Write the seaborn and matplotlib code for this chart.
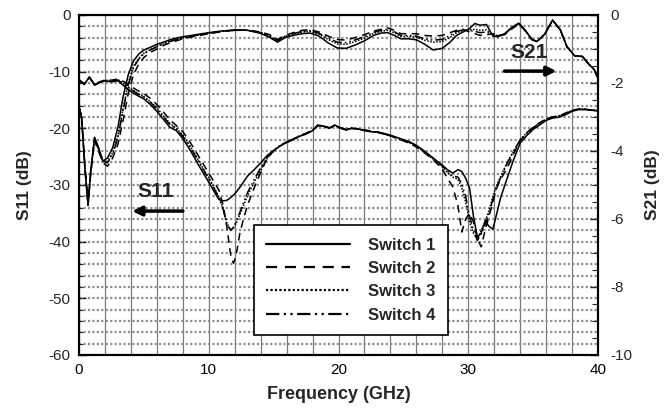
import matplotlib
matplotlib.use("Agg")
import matplotlib.pyplot as plt
from matplotlib.lines import Line2D
from matplotlib.ticker import MultipleLocator
import pandas as pd
import seaborn as sns

switches = ["Switch 1", "Switch 2", "Switch 3", "Switch 4"]

# ---- S11 (left axis, dB) ----
freq_s11 = [0, 0.4, 0.8, 1.2, 1.6, 2.0, 2.5, 3.0, 3.5, 4.0,
            4.5, 5.0, 5.5, 6.0, 6.5, 7.0, 7.5, 8.0, 8.5, 9.0,
            9.5, 10.0, 10.5, 10.8, 11.1, 11.4, 11.7, 11.9, 12.1, 12.4,
            12.7, 13.0, 13.5, 14.0, 14.5, 15.0, 15.5, 16.0, 16.5, 17.0,
            17.5, 18.0, 18.4, 18.8, 19.3, 19.7, 20.2, 20.6, 21.0, 21.5,
            22.0, 22.5, 23.0, 23.5, 24.0, 24.5, 25.0, 25.5, 26.0, 26.5,
            27.0, 27.5, 28.0, 28.4, 28.8, 29.2, 29.5, 29.8, 30.1, 30.4,
            30.7, 31.0, 31.3, 31.6, 31.9, 32.2, 32.5, 33.0, 33.5, 34.0,
            34.5, 35.0, 35.5, 36.0, 36.5, 37.0, 37.5, 38.0, 38.5, 39.0,
            39.5, 40.0]

s11_sw1 = [-11.5, -12.3, -10.9, -12.4, -11.9, -11.6, -11.8, -11.6, -12.6, -13.5,
           -14.2, -14.8, -15.8, -17.0, -18.4, -19.8, -20.4, -21.8, -23.6, -25.6,
           -27.6, -29.5, -31.5, -32.6, -32.8, -32.7, -32.2, -31.8, -31.3, -30.4,
           -29.4, -28.4, -27.3, -26.1, -24.8, -23.9, -23.1, -22.5, -22.0, -21.4,
           -21.0, -20.4, -19.4, -19.6, -20.0, -19.4, -20.0, -20.3, -20.0, -20.1,
           -20.4, -20.6, -20.6, -20.9, -21.2, -21.6, -22.0, -22.4, -23.0, -23.8,
           -24.7, -25.6, -26.5, -27.3, -27.9, -27.3, -27.6, -28.8, -30.5, -35.5,
           -39.2, -38.5, -36.3, -37.3, -37.8, -35.0, -32.2, -28.8, -25.5, -22.6,
           -21.3, -20.2, -19.4, -18.6, -18.2, -18.0, -17.6, -17.0, -16.7, -16.7,
           -16.8, -16.9]

s11_sw2 = [-11.4, -12.1, -11.0, -12.2, -11.8, -11.5, -11.5, -11.3, -11.8, -12.6,
           -13.3, -13.9, -14.7, -15.8, -17.1, -18.5, -19.5, -20.6, -22.2, -24.1,
           -26.0, -27.9, -29.8, -31.0, -33.5, -37.5, -42.5, -43.8, -42.5, -38.5,
           -35.8, -33.5, -30.5, -27.8, -25.3, -24.0, -23.1, -22.4, -21.9, -21.3,
           -20.9, -20.3, -19.6, -19.5, -19.9, -19.6, -19.9, -20.2, -20.0, -20.1,
           -20.3, -20.5, -20.7, -21.0, -21.3, -21.8, -22.2, -22.7, -23.3, -24.1,
           -25.0, -26.0, -27.2, -28.8, -30.3, -33.5, -38.3, -36.0, -35.0, -36.5,
           -39.5, -40.9, -38.0, -35.5, -33.0, -30.5, -29.0, -27.0, -24.5, -22.2,
           -20.8, -19.8, -19.0, -18.3, -18.0, -17.8, -17.3, -16.8, -16.6, -16.6,
           -16.8, -16.9]

s11_sw3 = [-11.5, -12.2, -11.0, -12.3, -11.8, -11.5, -11.6, -11.4, -12.2, -13.0,
           -13.8, -14.4, -15.3, -16.4, -17.8, -19.1, -20.0, -21.2, -22.9, -24.8,
           -26.8, -28.7, -30.8, -32.2, -34.0, -36.8, -37.9, -37.6, -36.8, -35.2,
           -33.5, -31.8, -29.5, -27.4, -25.3, -24.0, -23.1, -22.5, -22.0, -21.4,
           -21.0, -20.4, -19.5, -19.6, -20.0, -19.5, -20.0, -20.3, -20.0, -20.1,
           -20.4, -20.6, -20.7, -21.0, -21.3, -21.7, -22.1, -22.6, -23.2, -24.0,
           -24.9, -25.8, -26.8, -27.8, -28.6, -29.0, -30.5, -33.0, -36.5, -38.5,
           -39.5, -38.0, -36.5, -34.5, -32.0, -30.0, -28.5, -26.0, -24.0, -22.0,
           -20.8, -19.9, -19.1, -18.4, -18.0, -17.8, -17.4, -16.9, -16.6, -16.6,
           -16.8, -16.9]

s11_sw4 = [-11.6, -12.2, -11.1, -12.3, -11.9, -11.6, -11.6, -11.5, -12.3, -13.1,
           -13.9, -14.5, -15.4, -16.6, -18.0, -19.3, -20.1, -21.4, -23.1, -25.0,
           -27.0, -28.9, -31.0, -32.4, -34.2, -37.0, -38.0, -37.5, -36.5, -34.8,
           -33.0, -31.3, -29.0, -27.0, -25.1, -23.9, -23.0, -22.4, -21.9, -21.3,
           -20.9, -20.3, -19.5, -19.6, -19.9, -19.5, -20.0, -20.2, -20.0, -20.1,
           -20.3, -20.5, -20.7, -21.0, -21.3, -21.7, -22.1, -22.5, -23.1, -23.9,
           -24.8, -25.7, -26.6, -27.6, -28.4, -28.6, -29.8, -32.0, -35.5, -38.0,
           -39.8, -38.6, -37.0, -35.0, -32.5, -30.3, -28.7, -26.2, -24.0, -22.1,
           -20.9, -19.9, -19.1, -18.4, -18.0, -17.8, -17.4, -16.9, -16.6, -16.6,
           -16.8, -16.9]

# ---- S21 (right axis, dB) ----
freq_s21 = [0, 0.2, 0.45, 0.7, 0.9, 1.2, 1.5, 1.85, 2.2, 2.6,
            3.0, 3.4, 3.8, 4.2, 4.6, 5.0, 5.5, 6.0, 6.5, 7.0,
            7.5, 8.0, 9.0, 10.0, 11.0, 12.0, 13.0, 14.0, 14.7, 15.3,
            15.9, 16.5, 17.2, 17.8, 18.5, 19.2, 19.9, 20.6, 21.3, 22.0,
            22.7, 23.3, 23.8, 24.3, 24.8, 25.4, 26.0, 26.6, 27.3, 28.0,
            28.6, 29.1, 29.6, 30.1, 30.5, 30.9, 31.4, 31.9, 32.3, 32.8,
            33.4, 33.9, 34.4, 34.9, 35.3, 35.9, 36.5, 37.1, 37.6, 38.2,
            38.8, 39.3, 39.7, 40.0]

s21_sw1 = [-2.7, -3.0, -4.5, -5.6, -4.6, -3.6, -3.9, -4.3, -4.2, -3.9,
           -3.3, -2.4, -1.75, -1.35, -1.15, -1.03, -0.95, -0.86, -0.80, -0.73,
           -0.68, -0.64, -0.58, -0.52, -0.47, -0.44, -0.45, -0.54, -0.66, -0.80,
           -0.66, -0.60, -0.55, -0.53, -0.62, -0.82, -0.97, -0.98, -0.88, -0.76,
           -0.60, -0.53, -0.52, -0.60, -0.70, -0.70, -0.73, -0.85, -1.03, -0.98,
           -0.80, -0.60, -0.50, -0.40, -0.25, -0.30, -0.28, -0.62, -0.64, -0.55,
           -0.35, -0.24, -0.45, -0.72, -0.78, -0.56, -0.15, -0.44, -0.93, -1.20,
           -1.22, -1.45, -1.60, -1.86]

s21_sw2 = [-2.7, -3.0, -4.4, -5.5, -4.7, -3.7, -4.0, -4.35, -4.45, -4.2,
           -3.8, -3.1, -2.3, -1.75, -1.45, -1.25, -1.1, -1.0, -0.9, -0.82,
           -0.76, -0.70, -0.62, -0.55, -0.49, -0.45, -0.44, -0.50, -0.58, -0.72,
           -0.60, -0.52, -0.45, -0.43, -0.50, -0.62, -0.72, -0.74, -0.66, -0.58,
           -0.47, -0.42, -0.38, -0.45, -0.55, -0.55, -0.55, -0.60, -0.62, -0.60,
           -0.52, -0.45, -0.42, -0.50, -0.55, -0.60, -0.58, -0.55, -0.60, -0.58,
           -0.40, -0.26, -0.47, -0.72, -0.78, -0.56, -0.15, -0.44, -0.93, -1.20,
           -1.22, -1.45, -1.60, -1.86]

s21_sw3 = [-2.7, -3.0, -4.45, -5.55, -4.65, -3.65, -3.95, -4.3, -4.3, -4.05,
           -3.55, -2.75, -2.0, -1.5, -1.28, -1.12, -1.02, -0.92, -0.85, -0.77,
           -0.72, -0.67, -0.60, -0.53, -0.48, -0.44, -0.45, -0.52, -0.62, -0.76,
           -0.63, -0.56, -0.50, -0.48, -0.56, -0.72, -0.85, -0.86, -0.78, -0.68,
           -0.54, -0.48, -0.45, -0.52, -0.63, -0.63, -0.65, -0.74, -0.80, -0.78,
           -0.66, -0.52, -0.46, -0.44, -0.42, -0.45, -0.44, -0.58, -0.62, -0.57,
           -0.37, -0.25, -0.46, -0.72, -0.78, -0.56, -0.15, -0.44, -0.93, -1.20,
           -1.22, -1.45, -1.60, -1.86]

s21_sw4 = [-2.7, -3.0, -4.5, -5.6, -4.6, -3.6, -3.9, -4.3, -4.35, -4.1,
           -3.6, -2.8, -2.05, -1.55, -1.3, -1.14, -1.03, -0.93, -0.86, -0.78,
           -0.73, -0.68, -0.60, -0.54, -0.48, -0.45, -0.45, -0.52, -0.61, -0.75,
           -0.62, -0.55, -0.48, -0.46, -0.54, -0.68, -0.80, -0.81, -0.73, -0.64,
           -0.51, -0.45, -0.42, -0.49, -0.60, -0.60, -0.62, -0.70, -0.74, -0.72,
           -0.60, -0.48, -0.44, -0.46, -0.48, -0.52, -0.50, -0.57, -0.61, -0.56,
           -0.36, -0.25, -0.46, -0.72, -0.78, -0.56, -0.15, -0.44, -0.93, -1.20,
           -1.22, -1.45, -1.60, -1.86]

x_ticks = [0, 10, 20, 30, 40]
s11_ticks = [0, -10, -20, -30, -40, -50, -60]
s21_ticks = [0, -2, -4, -6, -8, -10]

# ---------------------------------------------------------------
sns.set_theme(style="white")
plt.rcParams["font.family"] = ["Liberation Sans", "DejaVu Sans"]
plt.rcParams["axes.linewidth"] = 1.5

s11_vals = [s11_sw1, s11_sw2, s11_sw3, s11_sw4]
s21_vals = [s21_sw1, s21_sw2, s21_sw3, s21_sw4]
df11 = pd.concat([pd.DataFrame({"Frequency": freq_s11, "S11": v, "Switch": n})
                  for n, v in zip(switches, s11_vals)], ignore_index=True)
df21 = pd.concat([pd.DataFrame({"Frequency": freq_s21, "S21": v, "Switch": n})
                  for n, v in zip(switches, s21_vals)], ignore_index=True)

dash_map = {"Switch 1": "", "Switch 2": (5, 3.5), "Switch 3": (1, 1),
            "Switch 4": (6, 2, 1, 2, 1, 2)}

fig = plt.figure(figsize=(6.65, 4.09), dpi=100)
ax = fig.add_axes([79 / 665, 1 - 355 / 409, 519 / 665, 340 / 409])
ax2 = ax.twinx()

sns.lineplot(data=df11, x="Frequency", y="S11", style="Switch", dashes=dash_map,
             color="black", linewidth=1.1, estimator=None, sort=False,
             legend=False, ax=ax)
sns.lineplot(data=df21, x="Frequency", y="S21", style="Switch", dashes=dash_map,
             color="black", linewidth=1.1, estimator=None, sort=False,
             legend=False, ax=ax2)

ax.set_xlim(0, 40)
ax.set_ylim(-60, 0)
ax2.set_ylim(-10, 0)
ax.set_xticks(x_ticks)
ax.set_xticklabels([str(t) for t in x_ticks])
ax.xaxis.set_minor_locator(MultipleLocator(2))
ax.set_yticks(s11_ticks)
ax.set_yticklabels([str(t) for t in s11_ticks])
ax.yaxis.set_minor_locator(MultipleLocator(2))
ax2.set_yticks(s21_ticks)
ax2.set_yticklabels([str(t) for t in s21_ticks])
ax2.yaxis.set_minor_locator(MultipleLocator(0.5))

ax.set_axisbelow(True)
ax.xaxis.grid(True, which="both", color="#7a7a7a", linewidth=0.9, linestyle="-")
ax.yaxis.grid(True, which="both", color="#8f8f8f", linewidth=1.6, linestyle=(0, (1, 1)))

ax.tick_params(axis="x", which="major", direction="in", length=7, width=1.2,
               labelsize=11, pad=6, top=False, colors="black")
ax.tick_params(axis="x", which="minor", direction="in", length=4, width=1.0, top=False)
ax.tick_params(axis="y", which="major", direction="in", length=5, width=1.0,
               labelsize=11, pad=6, right=False)
ax.tick_params(axis="y", which="minor", direction="in", length=3, width=0.8, right=False)
ax2.tick_params(axis="y", which="major", direction="in", length=6, width=1.0,
                labelsize=11, pad=9)
ax2.tick_params(axis="y", which="minor", direction="in", length=4, width=0.8)

for a in (ax, ax2):
    for s in a.spines.values():
        s.set_color("black")
        s.set_linewidth(1.5)

ax.set_xlabel("Frequency (GHz)", fontsize=13, fontweight="bold")
ax.set_ylabel("S11 (dB)", fontsize=12.5, fontweight="bold")
ax2.set_ylabel("S21 (dB)", fontsize=12.5, fontweight="bold")
ax.xaxis.set_label_coords(0.5, -0.09)
ax.yaxis.set_label_coords(-0.09, 0.5)
ax2.yaxis.set_label_coords(1.09, 0.5)

# annotations
ax.text(5.9, -31.2, "S11", fontsize=15, fontweight="bold", ha="center", va="center")
ax.annotate("", xy=(4.1, -34.6), xytext=(8.0, -34.6),
            arrowprops=dict(arrowstyle="-|>", color="black", lw=2.5,
                            mutation_scale=14, shrinkA=0, shrinkB=0))
ax.text(34.7, -6.7, "S21", fontsize=15, fontweight="bold", ha="center", va="center")
ax.annotate("", xy=(36.8, -9.9), xytext=(32.8, -9.9),
            arrowprops=dict(arrowstyle="-|>", color="black", lw=2.5,
                            mutation_scale=14, shrinkA=0, shrinkB=0))

handles = [Line2D([], [], color="black", linewidth=1.6,
                  linestyle=("-" if dash_map[n] == "" else (0, dash_map[n])))
           for n in switches]
leg = ax2.legend(handles, switches, loc="upper left", bbox_to_anchor=(0.337, 0.382),
                 frameon=True, fancybox=False, framealpha=1, edgecolor="black",
                 prop={"weight": "bold", "size": 12}, handlelength=5.0,
                 handletextpad=1.1, labelspacing=0.5, borderpad=0.75,
                 borderaxespad=0)
leg.get_frame().set_linewidth(1.2)

fig.savefig("out.png", dpi=100)
